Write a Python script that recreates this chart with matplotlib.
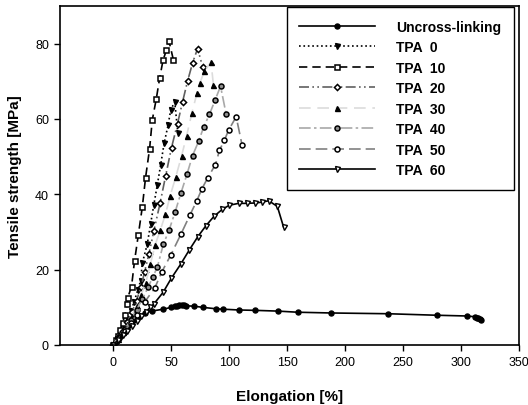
import matplotlib
matplotlib.use('Agg')
import matplotlib.pyplot as plt
import numpy as np

plt.rcParams['font.family'] = ['Liberation Sans', 'DejaVu Sans']

# elongation [%] / tensile strength [MPa]
unc_x = [0, 2, 4, 6, 8, 10, 12, 15, 18, 22, 27, 33, 43, 50, 53, 55, 57, 59, 61, 63, 70, 77, 89, 95, 108, 122, 142, 159, 188, 237, 279, 305, 312, 314, 315, 316, 317]
unc_y = [0, 0.8, 1.6, 2.5, 3.3, 4.2, 5.0, 6.0, 7.0, 7.8, 8.5, 9.0, 9.5, 10.0, 10.3, 10.4, 10.5, 10.5, 10.5, 10.4, 10.3, 10.0, 9.6, 9.5, 9.3, 9.2, 9.0, 8.7, 8.5, 8.3, 7.9, 7.7, 7.5, 7.3, 7.1, 6.9, 6.6]

tpa0_x = [0, 3, 6, 9, 12, 15, 18, 21, 23.5, 25, 29.3, 32.2, 35, 38, 40.9, 43.8, 47.2, 49.6, 53, 55.7]
tpa0_y = [0, 1.5, 3.0, 4.8, 6.8, 9.0, 11.5, 14.5, 17.0, 21.7, 26.8, 32.2, 37.3, 42.6, 47.9, 53.5, 58.3, 62.5, 64.5, 56.2]

tpa10_x = [0, 2, 4, 6, 8, 10, 12, 12.5, 15.7, 18.3, 21.5, 25, 27.8, 31.3, 33.6, 37.1, 40, 42.9, 45.8, 48.1, 51.9]
tpa10_y = [0, 1.2, 2.5, 4.0, 5.8, 8.0, 10.9, 12.6, 15.5, 22.3, 29.1, 36.6, 44.4, 52.1, 59.7, 65.4, 70.9, 75.6, 78.3, 80.6, 75.6]

tpa20_x = [0, 4, 8, 12, 16, 20, 24, 27, 30.7, 35, 40.3, 45.2, 50.2, 55.4, 59.7, 64, 68.4, 72.7, 77.1]
tpa20_y = [0, 1.8, 3.8, 6.0, 8.7, 11.8, 15.5, 19.5, 24.1, 30.3, 37.6, 45.0, 52.4, 58.8, 64.5, 70.0, 74.9, 78.7, 73.8]

tpa30_x = [0, 4, 8, 12, 16, 20, 24, 28, 32, 36, 40.5, 45, 49, 53.9, 58.9, 63.2, 67.8, 72.2, 74.8, 78.5, 84.3, 86.4]
tpa30_y = [0, 1.7, 3.5, 5.5, 7.8, 10.4, 13.3, 16.5, 21.5, 26.5, 30.5, 34.7, 39.6, 44.6, 50.2, 55.5, 61.6, 66.9, 69.6, 72.7, 75.1, 68.9]

tpa40_x = [0, 5, 10, 15, 20, 25, 30, 34, 38, 43.2, 48, 53.3, 58.3, 63.5, 68.4, 73.6, 78, 82.9, 87.8, 92.5, 97.4]
tpa40_y = [0, 2.0, 4.2, 6.6, 9.3, 12.2, 15.3, 18.0, 20.7, 26.8, 30.4, 35.3, 40.3, 45.3, 50.3, 54.1, 57.9, 61.2, 65.0, 68.7, 61.2]

tpa50_x = [0, 5, 10, 15, 20, 27, 35.7, 42, 49.6, 58.3, 66.1, 71.9, 76.5, 81.5, 88.1, 91.6, 95.9, 99.4, 106, 111]
tpa50_y = [0, 1.8, 3.8, 5.8, 8.0, 11.4, 15.1, 19.5, 23.9, 29.4, 34.5, 38.2, 41.5, 44.4, 47.9, 51.7, 54.4, 57.0, 60.6, 53.2]

tpa60_x = [0, 4, 8, 12, 16, 20, 24, 28, 32, 35, 43, 50, 58, 65.5, 73, 80, 87, 94, 100, 108, 115, 122, 128, 134, 141.5, 147]
tpa60_y = [0, 1.3, 2.6, 3.8, 5.0, 6.3, 7.6, 8.8, 10.0, 10.9, 14.0, 17.7, 21.4, 25.2, 28.8, 31.7, 34.2, 36.0, 37.1, 37.6, 37.6, 37.7, 37.9, 38.3, 36.8, 31.2]

fig = plt.figure(figsize=(5.28, 4.06), dpi=100)
ax = fig.add_axes([60/528, 60/406, 459/528, 339/406])

ms = 3.6
ax.plot(unc_x, unc_y, '-', color='black', lw=1.2, marker='o', ms=ms, mfc='black', mec='black', label='Uncross-linking')
ax.plot(tpa0_x, tpa0_y, ':', color='black', lw=1.2, marker='v', ms=ms, mfc='black', mec='black', label='TPA  0')
ax.plot(tpa10_x, tpa10_y, color='black', lw=1.2, ls=(0, (5, 3)), marker='s', ms=ms, mfc='white', mec='black', mew=1.1, label='TPA  10')
ax.plot(tpa20_x, tpa20_y, color='#606060', lw=1.2, ls=(0, (6, 2, 1, 2, 1, 2)), marker='D', ms=ms-0.5, mfc='white', mec='black', mew=1.1, label='TPA  20')
ax.plot(tpa30_x, tpa30_y, color='#dcdcdc', lw=1.2, ls=(0, (7, 4)), marker='^', ms=ms, mfc='black', mec='black', label='TPA  30')
ax.plot(tpa40_x, tpa40_y, color='#a8a8a8', lw=1.2, ls=(0, (7, 2, 1.5, 2)), marker='o', ms=ms, mfc='#909090', mec='black', mew=1.1, label='TPA  40')
ax.plot(tpa50_x, tpa50_y, color='#808080', lw=1.2, ls=(0, (7, 3)), marker='o', ms=ms, mfc='white', mec='black', mew=1.1, label='TPA  50')
ax.plot(tpa60_x, tpa60_y, '-', color='black', lw=1.2, marker='v', ms=ms, mfc='white', mec='black', mew=1.0, label='TPA  60')

ax.set_xlim(-46, 350)
ax.set_ylim(0, 90)
ax.set_xticks(np.arange(0, 351, 50))
ax.set_yticks(np.arange(0, 81, 20))
ax.tick_params(direction='out', length=4, width=1, labelsize=9, colors='black', pad=4)
for s in ax.spines.values():
    s.set_linewidth(1.2)

ax.set_xlabel('Elongation [%]', fontsize=11, fontweight='bold', labelpad=15)
ax.set_ylabel('Tensile strength [MPa]', fontsize=11, fontweight='bold', labelpad=9)

leg = ax.legend(loc='upper right', bbox_to_anchor=(0.989, 0.997), borderaxespad=0,
                fancybox=False, edgecolor='black', framealpha=1, numpoints=1,
                handlelength=5.5, handletextpad=1.5, labelspacing=0.47,
                borderpad=0.9, prop={'size': 10, 'weight': 'bold'})
leg.get_frame().set_linewidth(1.0)

fig.savefig('out.png', dpi=100)
